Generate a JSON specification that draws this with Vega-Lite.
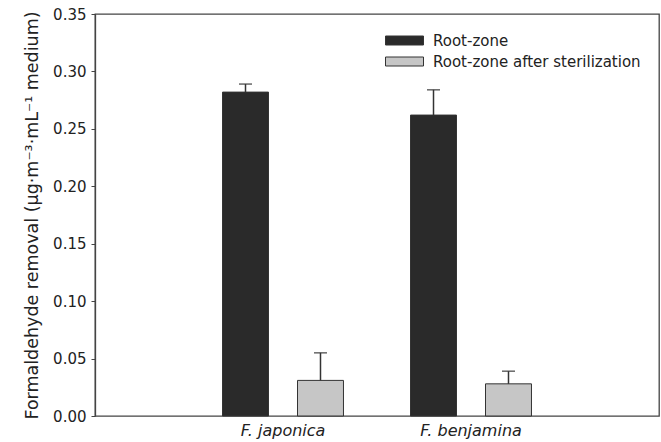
{
  "$schema": "https://vega.github.io/schema/vega-lite/v6.json",
  "width": 564,
  "height": 402,
  "autosize": "none",
  "padding": {"left": 95, "top": 14, "right": 2, "bottom": 26},
  "background": "white",
  "config": {
    "font": "DejaVu Sans",
    "view": {"stroke": "#444", "strokeWidth": 1.3}
  },
  "data": {
    "values": [
      {"species": "F. japonica", "treatment": "Root-zone", "value": 0.282, "upper": 0.289},
      {"species": "F. japonica", "treatment": "Root-zone after sterilization", "value": 0.031, "upper": 0.055},
      {"species": "F. benjamina", "treatment": "Root-zone", "value": 0.262, "upper": 0.284},
      {"species": "F. benjamina", "treatment": "Root-zone after sterilization", "value": 0.028, "upper": 0.039}
    ]
  },
  "encoding": {
    "x": {
      "field": "species",
      "type": "nominal",
      "sort": ["F. japonica", "F. benjamina"],
      "scale": {"paddingInner": 0, "paddingOuter": 0.5},
      "axis": {
        "title": null,
        "labelAngle": 0,
        "labelFontSize": 16,
        "labelFontStyle": "italic",
        "labelColor": "#222",
        "ticks": false,
        "domain": false,
        "labelPadding": 6
      }
    },
    "xOffset": {
      "field": "treatment",
      "type": "nominal",
      "scale": {"paddingInner": 0.387, "paddingOuter": 0.447}
    },
    "y": {
      "field": "value",
      "type": "quantitative",
      "scale": {"domain": [0, 0.35], "nice": false},
      "axis": {
        "title": "Formaldehyde removal (µg·m⁻³·mL⁻¹ medium)",
        "titleFontSize": 17.5,
        "titleFontWeight": "normal",
        "titleColor": "#222",
        "titlePadding": 11,
        "values": [0, 0.05, 0.1, 0.15, 0.2, 0.25, 0.3, 0.35],
        "format": ".2f",
        "labelFontSize": 15,
        "labelColor": "#222",
        "labelPadding": 5,
        "tickSize": 4,
        "tickColor": "#444",
        "domainColor": "#444",
        "domainWidth": 1.3,
        "grid": false
      }
    }
  },
  "layer": [
    {
      "mark": {"type": "bar", "stroke": "#333", "strokeWidth": 1},
      "encoding": {
        "color": {
          "field": "treatment",
          "type": "nominal",
          "scale": {
            "domain": ["Root-zone", "Root-zone after sterilization"],
            "range": ["#2a2a2a", "#c6c6c6"]
          },
          "legend": {
            "title": null,
            "orient": "none",
            "legendX": 299,
            "legendY": 16,
            "symbolType": "M-1.9,-0.45H1.9V0.45H-1.9Z",
            "symbolSize": 400,
            "symbolStrokeColor": "#333",
            "symbolStrokeWidth": 1,
            "labelFontSize": 15,
            "labelColor": "#222",
            "labelLimit": 400,
            "labelOffset": 18,
            "rowPadding": 2,
            "padding": 0
          }
        }
      }
    },
    {
      "mark": {"type": "rule", "color": "#333", "strokeWidth": 1.5},
      "encoding": {
        "y2": {"field": "upper"}
      }
    },
    {
      "mark": {"type": "tick", "orient": "horizontal", "size": 13, "thickness": 1.6, "color": "#333"},
      "encoding": {
        "y": {"field": "upper", "type": "quantitative", "title": "Formaldehyde removal (µg·m⁻³·mL⁻¹ medium)"}
      }
    }
  ]
}
